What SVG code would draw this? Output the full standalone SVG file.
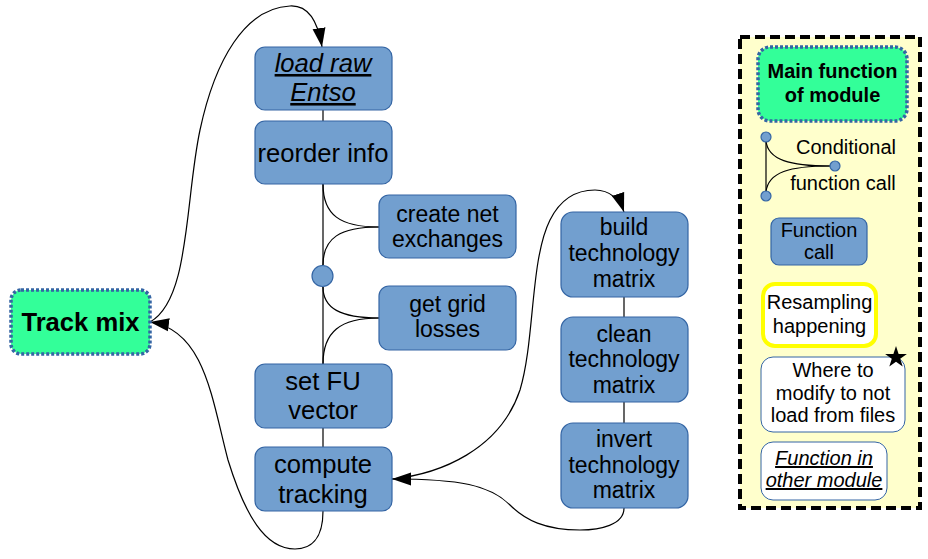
<svg xmlns="http://www.w3.org/2000/svg" width="928" height="559" viewBox="0 0 928 559">
<style>
text{font-family:"Liberation Sans",Arial,sans-serif;fill:#000;text-anchor:middle}
.fn{fill:#729fcf;stroke:#3465a4;stroke-width:1.2}
.main{fill:#33ff99;stroke:#3465a4;stroke-width:3.5;stroke-dasharray:3 2}
.t25{font-size:25.6px}
.t23{font-size:23px}
.t20{font-size:20px}
.b{font-weight:bold}
.iu{font-style:italic;text-decoration:underline}
.ln{fill:none;stroke:#000;stroke-width:1.2}
</style>
<defs>
<marker id="arr" markerWidth="20" markerHeight="14" refX="19" refY="7" orient="auto" markerUnits="userSpaceOnUse">
<path d="M0,0.5 L19,7 L0,13.5 z" fill="#000"/>
</marker>
</defs>

<g id="connectors">
<line class="ln" x1="323" y1="110" x2="323" y2="121"/>
<line class="ln" x1="323" y1="184" x2="323" y2="265"/>
<path class="ln" d="M323,184 C323,215 340,227 379,227"/>
<path class="ln" d="M323,265 C323,238 340,227 379,227"/>
<line class="ln" x1="323" y1="287" x2="323" y2="364"/>
<path class="ln" d="M323,287 C323,308 340,318 379,318"/>
<path class="ln" d="M323,364 C323,332 340,318 379,318"/>
<line class="ln" x1="323" y1="428" x2="323" y2="447"/>
<line class="ln" x1="624" y1="297" x2="624" y2="317"/>
<line class="ln" x1="624" y1="402" x2="624" y2="423"/>
<path class="ln" marker-end="url(#arr)" d="M150,322 C190,300 185,200 200,130 C215,60 245,8 290,6 C308,5 318,22 322,47"/>
<path class="ln" marker-end="url(#arr)" d="M323,511 C323,540 310,549 295,549 C265,549 245,515 228,460 C212,400 205,330 150,322"/>
<path class="ln" marker-end="url(#arr)" d="M392,479 C440,474 500,450 520,390 C535,340 530,260 550,220 C562,196 580,190 595,190 C610,190 620,200 624,212"/>
<path class="ln" marker-end="url(#arr)" d="M624,508 C624,525 600,530 580,530 C545,530 525,520 510,505 C490,485 460,479 392,479"/>
</g>

<g id="track-mix">
<rect class="main" x="11" y="290" width="139" height="64" rx="10"/>
<text class="t25 b" x="80.5" y="331">Track mix</text>
</g>

<g id="load-raw-entso">
<rect class="fn" x="255" y="47" width="137" height="63" rx="10"/>
<text class="t25 iu" x="323" y="72">load raw</text>
<text class="t25 iu" x="323" y="101">Entso</text>
</g>

<g id="reorder-info">
<rect class="fn" x="255" y="121" width="137" height="63" rx="10"/>
<text class="t25" x="323" y="162">reorder info</text>
</g>

<g id="create-net-exchanges">
<rect class="fn" x="379" y="195" width="137" height="63" rx="10"/>
<text class="t23" x="447.5" y="222">create net</text>
<text class="t23" x="447.5" y="247">exchanges</text>
</g>

<g id="conditional">
<circle class="fn" cx="322.5" cy="276" r="10.5"/>
</g>

<g id="get-grid-losses">
<rect class="fn" x="379" y="286" width="137" height="64" rx="10"/>
<text class="t23" x="447.5" y="312">get grid</text>
<text class="t23" x="447.5" y="337">losses</text>
</g>

<g id="set-fu-vector">
<rect class="fn" x="255" y="364" width="137" height="64" rx="10"/>
<text class="t25" x="323" y="390">set FU</text>
<text class="t25" x="323" y="419">vector</text>
</g>

<g id="compute-tracking">
<rect class="fn" x="255" y="447" width="137" height="64" rx="10"/>
<text class="t25" x="323" y="473">compute</text>
<text class="t25" x="323" y="503">tracking</text>
</g>

<g id="build-technology-matrix">
<rect class="fn" x="561" y="212" width="127" height="85" rx="12"/>
<text class="t23" x="624" y="235">build</text>
<text class="t23" x="624" y="261">technology</text>
<text class="t23" x="624" y="287">matrix</text>
</g>

<g id="clean-technology-matrix">
<rect class="fn" x="561" y="317" width="127" height="85" rx="12"/>
<text class="t23" x="624" y="342">clean</text>
<text class="t23" x="624" y="367">technology</text>
<text class="t23" x="624" y="393">matrix</text>
</g>

<g id="invert-technology-matrix">
<rect class="fn" x="561" y="423" width="127" height="85" rx="12"/>
<text class="t23" x="624" y="447">invert</text>
<text class="t23" x="624" y="473">technology</text>
<text class="t23" x="624" y="498">matrix</text>
</g>

<g id="legend">
<rect x="740" y="37" width="180" height="471" fill="#ffffcc" stroke="#000" stroke-width="4" stroke-dasharray="10 5"/>
<g id="legend-main">
<rect class="main" x="758" y="47" width="149" height="74" rx="12"/>
<text class="t20 b" x="832.5" y="78">Main function</text>
<text class="t20 b" x="832.5" y="102">of module</text>
</g>
<g id="legend-conditional">
<line class="ln" x1="766" y1="141" x2="766" y2="192"/>
<path class="ln" d="M766,141 C768,160 790,166 830,166"/>
<path class="ln" d="M766,192 C768,172 790,166 830,166"/>
<circle class="fn" cx="766" cy="137" r="5"/>
<circle class="fn" cx="766" cy="196" r="5"/>
<circle class="fn" cx="835" cy="166" r="5"/>
<text class="t20" x="846" y="154">Conditional</text>
<text class="t20" x="843" y="190">function call</text>
</g>
<g id="legend-function-call">
<rect class="fn" x="771" y="218" width="96" height="47" rx="8"/>
<text class="t20" x="819" y="237">Function</text>
<text class="t20" x="819" y="259">call</text>
</g>
<g id="legend-resampling">
<rect x="763" y="284" width="113" height="62" rx="12" fill="#fff" stroke="#ffff00" stroke-width="4"/>
<text class="t20" x="819.5" y="309">Resampling</text>
<text class="t20" x="819.5" y="333">happening</text>
</g>
<g id="legend-modify">
<rect x="761" y="357" width="144" height="75" rx="12" fill="#fff" stroke="#3465a4" stroke-width="1"/>
<text class="t20" x="833" y="377">Where to</text>
<text class="t20" x="833" y="400">modify to not</text>
<text class="t20" x="833" y="422">load from files</text>
<path d="M896,346 L898.6,353.9 L906.9,353.9 L900.2,358.8 L902.7,366.6 L896,361.8 L889.3,366.6 L891.8,358.8 L885.1,353.9 L893.4,353.9 z" fill="#000"/>
</g>
<g id="legend-other-module">
<rect x="761" y="442" width="126" height="58" rx="12" fill="#fff" stroke="#3465a4" stroke-width="1"/>
<text class="t20 iu" x="824" y="465">Function in</text>
<text class="t20 iu" x="824" y="487">other module</text>
</g>
</g>
</svg>
